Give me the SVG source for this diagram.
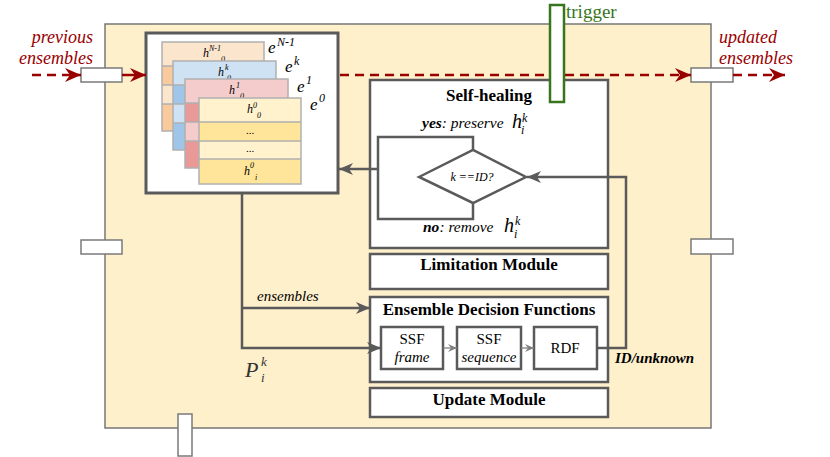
<svg xmlns="http://www.w3.org/2000/svg" width="830" height="457" viewBox="0 0 830 457">
<style>
.s{font-family:"Liberation Serif","Times New Roman",serif}
.i{font-style:italic}
.b{font-weight:bold}
.mod{fill:#fff;stroke:#5a5a5a;stroke-width:2.5}
.port{fill:#fff;stroke:#7a7a7a;stroke-width:1.5}
.ln{fill:none;stroke:#5a5a5a;stroke-width:2.5}
.thin{fill:none;stroke:#808080;stroke-width:1.3}
.red{fill:none;stroke:#990000;stroke-width:2.5}
.dash{stroke-dasharray:9 6}
.card{stroke:#b0b0b0;stroke-width:1.5}
.title{font-size:17px;font-weight:bold;text-anchor:middle}
.ht{font-size:12px;font-style:italic}
.hs{font-size:8px;font-style:italic}
</style>
<defs>
<marker id="ag" markerUnits="userSpaceOnUse" markerWidth="16" markerHeight="12" refX="14" refY="6" orient="auto"><path d="M0,0 L14,6 L0,12 L4,6 Z" fill="#5a5a5a"/></marker>
<marker id="as" markerUnits="userSpaceOnUse" markerWidth="10" markerHeight="8" refX="9" refY="4" orient="auto"><path d="M0,0 L9,4 L0,8 L3,4 Z" fill="#808080"/></marker>
<marker id="ar" markerUnits="userSpaceOnUse" markerWidth="18" markerHeight="14" refX="16" refY="7" orient="auto"><path d="M0,0 L16,7 L0,14 L5,7 Z" fill="#990000"/></marker>
</defs>

<g id="frame">
<rect x="105" y="24" width="606" height="404" fill="#fff0cc" stroke="#777" stroke-width="1.5"/>
</g>

<g id="ports">
<rect class="port" x="81" y="68" width="41" height="14"/>
<rect class="port" x="691" y="68" width="42" height="14"/>
<rect class="port" x="81" y="240" width="41" height="14"/>
<rect class="port" x="691" y="239" width="42" height="15"/>
<rect class="port" x="178" y="414" width="14" height="42"/>
</g>

<g id="labels-io">
<text class="s i" x="93" y="43" font-size="18" fill="#990000" text-anchor="end">previous</text>
<text class="s i" x="93" y="64" font-size="18" fill="#990000" text-anchor="end">ensembles</text>
<text class="s i" x="719" y="43" font-size="18" fill="#990000">updated</text>
<text class="s i" x="719" y="64" font-size="18" fill="#990000">ensembles</text>
</g>

<g id="ensemble-store">
<rect x="146" y="33" width="192" height="160" fill="#fff" stroke="#5a5a5a" stroke-width="3"/>
<g id="card-N-1">
<rect x="162" y="42" width="102" height="89" fill="#fce5cd"/>
<rect x="162" y="66" width="102" height="19" fill="#f9cb9c"/>
<rect x="162" y="104" width="102" height="27" fill="#f9cb9c"/>
<rect x="162" y="42" width="102" height="89" fill="none" class="card"/>
<path d="M162,66 H264 M162,85 H264 M162,104 H264" class="card"/>
<text class="s ht" x="203" y="57">h</text><text class="s hs" x="209" y="51">N-1</text><text class="s hs" x="221" y="62">0</text>
</g>
<g id="card-k">
<rect x="173" y="61" width="103" height="89" fill="#cfe2f3"/>
<rect x="173" y="85" width="103" height="19" fill="#9fc5e8"/>
<rect x="173" y="123" width="103" height="27" fill="#9fc5e8"/>
<rect x="173" y="61" width="103" height="89" fill="none" class="card"/>
<path d="M173,85 H276 M173,104 H276 M173,123 H276" class="card"/>
<text class="s ht" x="218" y="76">h</text><text class="s hs" x="225" y="70">k</text><text class="s hs" x="227" y="81">0</text>
</g>
<g id="card-1">
<rect x="185" y="79" width="103" height="89" fill="#f4cccc"/>
<rect x="185" y="103" width="103" height="19" fill="#ea9999"/>
<rect x="185" y="141" width="103" height="27" fill="#ea9999"/>
<rect x="185" y="79" width="103" height="89" fill="none" class="card"/>
<path d="M185,103 H288 M185,122 H288 M185,141 H288" class="card"/>
<text class="s ht" x="229" y="94">h</text><text class="s hs" x="236" y="88">1</text><text class="s hs" x="240" y="99">0</text>
</g>
<g id="card-0">
<rect x="199" y="98" width="102" height="86" fill="#fff2cc"/>
<rect x="199" y="122" width="102" height="19" fill="#ffe599"/>
<rect x="199" y="159" width="102" height="25" fill="#ffe599"/>
<rect x="199" y="98" width="102" height="86" fill="none" class="card"/>
<path d="M199,122 H301 M199,141 H301 M199,159 H301" class="card"/>
<text class="s ht" x="247" y="113">h</text><text class="s hs" x="253" y="108">0</text><text class="s hs" x="257" y="118">0</text>
<text class="s" x="250" y="134" font-size="11" text-anchor="middle">...</text>
<text class="s" x="250" y="152" font-size="11" text-anchor="middle">...</text>
<text class="s ht" x="244" y="175">h</text><text class="s hs" x="250" y="168">0</text><text class="s hs" x="255" y="180">i</text>
</g>
<text class="s i" x="268" y="53" font-size="17">e</text><text class="s i" x="277" y="46" font-size="12">N-1</text>
<text class="s i" x="285" y="72" font-size="17">e</text><text class="s i" x="294" y="65" font-size="12">k</text>
<text class="s i" x="297" y="92" font-size="17">e</text><text class="s i" x="306" y="84" font-size="12">1</text>
<text class="s i" x="310" y="110" font-size="17">e</text><text class="s i" x="319" y="102" font-size="12">0</text>
</g>

<g id="self-healing">
<rect class="mod" x="370" y="80" width="238" height="168"/>
<text class="s title" x="489" y="101">Self-healing</text>
<text class="s i" x="422" y="128" font-size="15.5"><tspan class="b">yes</tspan>: preserve</text>
<text class="s i" x="512" y="128" font-size="20">h</text><text class="s i" x="522" y="122" font-size="12">k</text><text class="s i" x="521" y="134" font-size="12">i</text>
<path class="ln" d="M473,150 V137 H378 V219 H473 V203"/>
<path d="M419,177 L473,150 L526,177 L473,203 Z" fill="#fff" stroke="#5a5a5a" stroke-width="2.5"/>
<text class="s i" x="472" y="181" font-size="12" text-anchor="middle">k ==ID?</text>
<text class="s i" x="423" y="232" font-size="15.5"><tspan class="b">no</tspan>: remove</text>
<text class="s i" x="504" y="232" font-size="20">h</text><text class="s i" x="515" y="225" font-size="12">k</text><text class="s i" x="514" y="238" font-size="12">i</text>
</g>

<g id="limitation">
<rect class="mod" x="370" y="254" width="238" height="35"/>
<text class="s title" x="489" y="270">Limitation Module</text>
</g>

<g id="edf">
<rect class="mod" x="370" y="297" width="238" height="85"/>
<text class="s title" x="489" y="315">Ensemble Decision Functions</text>
</g>
<g id="ssf-frame">
<rect class="mod" x="381" y="327" width="62" height="42"/>
<text class="s" x="412" y="344" font-size="15" text-anchor="middle">SSF</text>
<text class="s i" x="412" y="362" font-size="15" text-anchor="middle">frame</text>
</g>
<g id="ssf-sequence">
<rect class="mod" x="457" y="327" width="64" height="42"/>
<text class="s" x="489" y="344" font-size="15" text-anchor="middle">SSF</text>
<text class="s i" x="489" y="362" font-size="15" text-anchor="middle">sequence</text>
</g>
<g id="rdf">
<rect class="mod" x="534" y="327" width="63" height="42"/>
<text class="s" x="565" y="353" font-size="15" text-anchor="middle">RDF</text>
</g>

<g id="update">
<rect class="mod" x="370" y="388" width="238" height="29"/>
<text class="s title" x="489" y="405">Update Module</text>
</g>

<g id="connectors">
<path class="red dash" d="M32,75 H81" marker-end="url(#ar)"/>
<path class="red" d="M122,75 H146" marker-end="url(#ar)"/>
<path class="red dash" d="M340,75 H691" marker-end="url(#ar)"/>
<path class="red dash" d="M733,75 H785" marker-end="url(#ar)"/>
<path class="ln" d="M378,169 H339" marker-end="url(#ag)"/>
<path class="ln" d="M597,348 H626 V177 H527" marker-end="url(#ag)"/>
<path class="ln" d="M242,193 V348 H381" marker-end="url(#ag)"/>
<path class="ln" d="M242,308 H370" marker-end="url(#ag)"/>
<path class="thin" d="M443,348 H457" marker-end="url(#as)"/>
<path class="thin" d="M521,348 H534" marker-end="url(#as)"/>
</g>

<g id="connector-labels">
<text class="s i" x="257" y="301" font-size="15">ensembles</text>
<text class="s i" x="245" y="377" font-size="22" fill="#333">P</text><text class="s i" x="261" y="366" font-size="13" fill="#333">k</text><text class="s i" x="261" y="382" font-size="13" fill="#333">i</text>
<text class="s i b" x="615" y="363" font-size="15">ID/unknown</text>
</g>

<g id="trigger">
<rect x="550" y="5" width="14" height="97" fill="#fff" stroke="#38761d" stroke-width="2.5"/>
<text class="s" x="566" y="18" font-size="19" fill="#38761d">trigger</text>
</g>
</svg>
